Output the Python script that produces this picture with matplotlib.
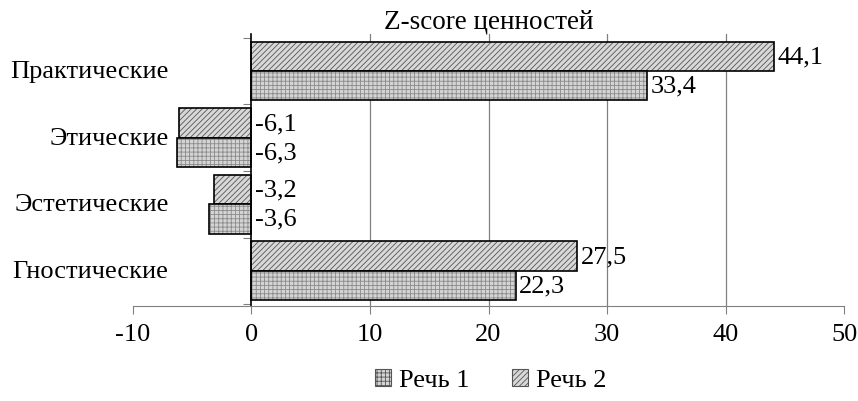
import numpy as np
import matplotlib.pyplot as plt

plt.rcParams['font.family'] = ['Liberation Serif', 'DejaVu Serif']
plt.rcParams['hatch.linewidth'] = 0.6

# data
categories = ['Практические', 'Этические', 'Эстетические', 'Гностические']
speech1 = [33.4, -6.3, -3.6, 22.3]   # checker, lower bar
speech2 = [44.1, -6.1, -3.2, 27.5]   # diagonal, upper bar
labels = ['Речь 1', 'Речь 2']
xticks = [-10, 0, 10, 20, 30, 40, 50]

fs = 19

fig = plt.figure(figsize=(8.58, 4.02), dpi=100)
ax = fig.add_axes([0.155, 0.2363, 0.8287, 0.6767])

pos = np.arange(len(categories))
h = 0.44

# fill + hatch without outline, then outline on top
for vals, off, hatch, fc, hc in [(speech2, -h / 2, '//////', '#d8d8d8', '#555555'),
                                 (speech1, h / 2, '++++', '#d4d4d4', '#8a8a8a')]:
    ax.barh(pos + off, vals, height=h, color=fc, hatch=hatch, edgecolor=hc, linewidth=0)
    ax.barh(pos + off, vals, height=h, fill=False, edgecolor='black', linewidth=1.2)
    for p, v in zip(pos + off, vals):
        ax.text(max(v, 0) + 0.3, p, f'{v:.1f}'.replace('.', ','), va='center', ha='left', fontsize=fs)

for g in [10, 20, 30, 40]:
    ax.axvline(g, color='#808080', lw=0.9, zorder=0)

ax.set_xlim(-10, 50)
ax.set_ylim(3.53, -0.56)
ax.set_xticks(xticks)
ax.set_xticklabels([str(t) for t in xticks], fontsize=fs)
ax.tick_params(axis='x', length=6, color='#808080', pad=6)

ax.spines['left'].set_position(('data', 0))
ax.spines['left'].set_color('black')
ax.spines['left'].set_linewidth(1.2)
ax.spines['top'].set_visible(False)
ax.spines['right'].set_visible(False)
ax.spines['bottom'].set_color('#808080')
ax.set_yticks([-0.5, 0.5, 1.5, 2.5, 3.5])
ax.set_yticklabels([])
ax.tick_params(axis='y', length=6, color='#808080')

for p, c in zip(pos, categories):
    ax.text(-7.0, p, c, ha='right', va='center', fontsize=fs)

ax.set_title('Z-score ценностей', fontsize=fs + 0.5, pad=1)

h1 = plt.Rectangle((0, 0), 1, 1, facecolor='#d4d4d4', hatch='++++', edgecolor='#555555', linewidth=0.8)
h2 = plt.Rectangle((0, 0), 1, 1, facecolor='#d8d8d8', hatch='//////', edgecolor='#555555', linewidth=0.8)
fig.legend([h1, h2], labels, loc='center', bbox_to_anchor=(0.572, 0.052), ncol=2, frameon=False,
           fontsize=fs, handlelength=0.6, handleheight=0.6, handletextpad=0.3, columnspacing=1.6)

fig.savefig('out.png', dpi=100)
